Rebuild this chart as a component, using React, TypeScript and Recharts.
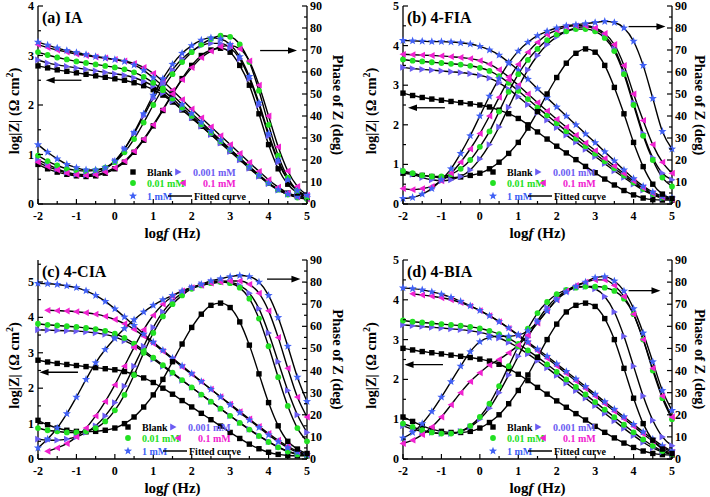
import React from "react";
import { ComposedChart, Line, XAxis, YAxis, Legend, ReferenceLine } from "recharts";

const FONT = "'Liberation Serif', 'Times New Roman', serif";

// log f grid (Hz, decades)
const LOGF = [-2, -1.75, -1.5, -1.25, -1, -0.75, -0.5, -0.25, 0, 0.25, 0.5, 0.75, 1, 1.25, 1.5, 1.75, 2, 2.25, 2.5, 2.75, 3, 3.25, 3.5, 3.75, 4, 4.25, 4.5, 4.75, 5];

const SERIES = ["Blank", "0.001 mM", "0.01 mM", "0.1 mM", "1 mM"];
const COLORS = ["#000000", "#6b5cf2", "#22e022", "#f022d0", "#4060f4"];
const SHAPES = ["square", "triRight", "circle", "triLeft", "star"];

const X_TICKS = [-2, -1.5, -1, -0.5, 0, 0.5, 1, 1.5, 2, 2.5, 3, 3.5, 4, 4.5, 5];
const PHASE_TICKS = [0, 5, 10, 15, 20, 25, 30, 35, 40, 45, 50, 55, 60, 65, 70, 75, 80, 85, 90];
const LOGZ_TICKS_4 = [0, 0.5, 1, 1.5, 2, 2.5, 3, 3.5, 4];
const LOGZ_TICKS_5 = [0, 0.5, 1, 1.5, 2, 2.5, 3, 3.5, 4, 4.5, 5];
const LOGZ_TICKS_C = [0, 0.5, 1, 1.5, 2, 2.5, 3, 3.5, 4, 4.5, 5, 5.5];

// (a) IA
const aZ0 = [2.79, 2.75, 2.71, 2.68, 2.65, 2.62, 2.59, 2.56, 2.53, 2.5, 2.45, 2.39, 2.31, 2.2, 2.06, 1.9, 1.74, 1.57, 1.41, 1.24, 1.07, 0.9, 0.73, 0.57, 0.42, 0.3, 0.22, 0.17, 0.15];
const aZ1 = [2.91, 2.85, 2.81, 2.78, 2.75, 2.72, 2.69, 2.66, 2.63, 2.6, 2.55, 2.48, 2.38, 2.24, 2.08, 1.91, 1.74, 1.57, 1.4, 1.23, 1.06, 0.89, 0.72, 0.56, 0.41, 0.28, 0.2, 0.16, 0.14];
const aZ2 = [3.07, 3.01, 2.96, 2.92, 2.88, 2.85, 2.82, 2.79, 2.76, 2.72, 2.66, 2.57, 2.45, 2.3, 2.13, 1.95, 1.78, 1.61, 1.44, 1.27, 1.1, 0.93, 0.76, 0.59, 0.43, 0.29, 0.19, 0.13, 0.1];
const aZ3 = [3.22, 3.16, 3.11, 3.07, 3.03, 3.0, 2.97, 2.95, 2.92, 2.89, 2.84, 2.76, 2.64, 2.48, 2.3, 2.11, 1.92, 1.74, 1.56, 1.38, 1.2, 1.02, 0.84, 0.66, 0.49, 0.34, 0.22, 0.14, 0.1];
const aZ4 = [3.27, 3.21, 3.15, 3.1, 3.06, 3.02, 2.98, 2.95, 2.92, 2.88, 2.81, 2.7, 2.55, 2.38, 2.2, 2.01, 1.83, 1.65, 1.47, 1.29, 1.11, 0.93, 0.75, 0.58, 0.42, 0.29, 0.2, 0.15, 0.13];
const aP0 = [18, 16, 14.5, 13.5, 12.8, 12.5, 12.8, 14, 16, 19, 23.5, 29, 35.5, 42.5, 50, 57, 63, 67.5, 70, 70.8, 69, 63, 54, 41, 27, 16, 9, 5, 3];
const aP1 = [20, 18, 16, 14.5, 13.5, 13.3, 14, 16, 19.5, 25, 32, 40, 48, 55, 61, 66, 69.5, 72, 73, 73, 71, 66, 57, 45, 31, 19, 11, 6, 4];
const aP2 = [22, 19.5, 17.5, 16, 15.3, 15, 15.3, 16.5, 19, 23.5, 29.5, 37, 45, 52.5, 59, 64.5, 69, 72.5, 75, 76.5, 76, 72.5, 64.5, 51.5, 36, 22, 12, 6, 3];
const aP3 = [19, 17, 15.5, 14, 13.3, 13, 13.3, 14.5, 16.5, 19.5, 24, 29.5, 36, 43, 50, 56.5, 62, 66.5, 69.5, 71.5, 72, 70.5, 65, 54, 40, 26, 15, 8, 4];
const aP4 = [27, 23.5, 20.5, 18, 16.5, 15.5, 15.5, 16.5, 19.5, 25, 32.5, 41, 49.5, 57, 63.5, 68.5, 72, 74.5, 75.5, 75, 72.5, 67, 58, 46, 32, 20, 11, 6, 4];

// (b) 4-FIA
const bZ0 = [2.8, 2.74, 2.69, 2.65, 2.62, 2.59, 2.56, 2.53, 2.5, 2.45, 2.37, 2.28, 2.16, 2.0, 1.82, 1.64, 1.46, 1.29, 1.12, 0.95, 0.79, 0.63, 0.48, 0.34, 0.23, 0.15, 0.11, 0.1, 0.1];
const bZ1 = [3.45, 3.42, 3.4, 3.38, 3.36, 3.34, 3.32, 3.29, 3.25, 3.18, 3.06, 2.9, 2.71, 2.51, 2.31, 2.12, 1.93, 1.74, 1.56, 1.38, 1.2, 1.02, 0.84, 0.67, 0.5, 0.35, 0.23, 0.15, 0.12];
const bZ2 = [3.65, 3.62, 3.6, 3.58, 3.56, 3.54, 3.52, 3.49, 3.44, 3.36, 3.23, 3.06, 2.86, 2.65, 2.44, 2.24, 2.04, 1.84, 1.65, 1.46, 1.27, 1.08, 0.9, 0.72, 0.54, 0.38, 0.25, 0.16, 0.12];
const bZ3 = [3.78, 3.77, 3.76, 3.75, 3.74, 3.72, 3.7, 3.67, 3.62, 3.53, 3.39, 3.21, 3.0, 2.78, 2.56, 2.35, 2.14, 1.94, 1.74, 1.54, 1.35, 1.15, 0.96, 0.77, 0.58, 0.41, 0.27, 0.17, 0.12];
const bZ4 = [4.13, 4.12, 4.11, 4.1, 4.1, 4.09, 4.07, 4.04, 3.98, 3.89, 3.76, 3.58, 3.38, 3.15, 2.91, 2.68, 2.45, 2.22, 2.0, 1.77, 1.55, 1.32, 1.09, 0.86, 0.64, 0.45, 0.3, 0.2, 0.15];
const bP0 = [14, 13.5, 13, 12.5, 12, 12, 12.3, 13, 14, 16, 19, 23, 28, 34.5, 42, 50, 57.5, 64, 68.5, 70.5, 69, 63, 53, 41, 28, 17, 9, 4.5, 2.5];
const bP1 = [15, 13.5, 12, 11, 10.5, 11, 12.5, 15.5, 20.5, 27, 35, 44, 53, 61, 67.5, 72.5, 76, 78.5, 80, 80.5, 79.5, 76.5, 70.5, 60, 46, 32, 21, 14, 11];
const bP2 = [15, 14, 13, 12.5, 12.5, 13.5, 16, 20, 26, 33, 42, 51, 59, 65.5, 70.5, 74.5, 77, 78.5, 79.5, 79.5, 78.5, 75.5, 69.5, 59, 45, 31, 20, 12, 8];
const bP3 = [7, 6.5, 7, 8, 10.5, 14, 19, 25, 32, 40, 48.5, 56.5, 63.5, 69, 73.5, 77, 79, 80.5, 81, 81, 80, 77.5, 72.5, 63, 50, 38, 27, 19, 14];
const bP4 = [2.5, 3, 4.5, 7, 11, 16, 23, 31, 40, 49, 57, 64, 69.5, 73.5, 76.5, 78.5, 80, 81, 81.5, 82, 82.5, 83, 82.5, 80, 74, 63, 48, 33, 25];

// (c) 4-CIA
const cZ0 = [2.79, 2.74, 2.7, 2.67, 2.64, 2.61, 2.58, 2.55, 2.52, 2.47, 2.39, 2.29, 2.16, 2.0, 1.83, 1.65, 1.47, 1.29, 1.11, 0.93, 0.75, 0.58, 0.42, 0.29, 0.19, 0.13, 0.1, 0.09, 0.09];
const cZ1 = [3.65, 3.64, 3.63, 3.62, 3.61, 3.59, 3.56, 3.52, 3.45, 3.34, 3.2, 3.02, 2.82, 2.62, 2.42, 2.22, 2.02, 1.82, 1.62, 1.42, 1.22, 1.03, 0.84, 0.66, 0.49, 0.34, 0.22, 0.14, 0.1];
const cZ2 = [3.82, 3.79, 3.77, 3.75, 3.73, 3.7, 3.67, 3.62, 3.54, 3.42, 3.26, 3.07, 2.86, 2.65, 2.44, 2.23, 2.02, 1.82, 1.62, 1.42, 1.22, 1.02, 0.83, 0.65, 0.48, 0.33, 0.21, 0.13, 0.1];
const cZ3 = [null, 4.2, 4.19, 4.18, 4.16, 4.13, 4.09, 4.03, 3.94, 3.82, 3.66, 3.47, 3.26, 3.04, 2.82, 2.6, 2.39, 2.18, 1.97, 1.76, 1.55, 1.34, 1.13, 0.92, 0.72, 0.53, 0.36, 0.22, 0.13];
const cZ4 = [4.96, 4.95, 4.93, 4.89, 4.84, 4.75, 4.62, 4.45, 4.24, 4.01, 3.77, 3.53, 3.3, 3.07, 2.85, 2.63, 2.41, 2.19, 1.97, 1.75, 1.53, 1.31, 1.1, 0.89, 0.68, 0.49, 0.32, 0.19, 0.12];
const cP0 = [17.5, 15.5, 14, 13, 12.5, 12.3, 12.5, 13, 14, 16, 19, 23.5, 29, 36, 44, 52, 59.5, 65.5, 69.5, 70.5, 68.5, 62, 51.5, 38.5, 25.5, 15, 8, 4.5, 2.5];
const cP1 = [9, 8.5, 8.5, 9, 10, 12, 15, 19.5, 25.5, 33, 42, 51, 59.5, 66.5, 71.5, 75, 77.5, 79, 80, 80.5, 80, 78.5, 75, 68, 57, 44, 31, 20, 12];
const cP2 = [14, 13, 12.5, 12, 12, 12.5, 14, 17, 22, 29, 38, 48, 57, 64.5, 70, 74, 77, 78.5, 79.5, 80, 79.5, 77.5, 72.5, 63.5, 51, 37, 24, 14, 8];
const cP3 = [null, 3.5, 5, 7, 10, 14, 19.5, 26, 33.5, 42, 50.5, 58.5, 65, 70, 73.5, 76, 77.5, 78.5, 79.5, 80, 80.5, 80.5, 79, 75, 67, 55, 41, 28, 19];
const cP4 = [5, 9, 14, 20.5, 28, 36, 43.5, 49.5, 54.5, 59, 63, 66.5, 69.5, 72, 74, 76, 77.5, 79, 80.5, 81.5, 82.5, 83, 82.5, 80, 74, 64, 51, 37, 26];

// (d) 4-BIA
const dZ0 = [2.78, 2.74, 2.7, 2.67, 2.64, 2.61, 2.58, 2.55, 2.51, 2.46, 2.38, 2.27, 2.13, 1.97, 1.8, 1.63, 1.46, 1.3, 1.14, 0.98, 0.82, 0.67, 0.53, 0.4, 0.29, 0.2, 0.14, 0.11, 0.1];
const dZ1 = [3.37, 3.35, 3.33, 3.31, 3.29, 3.27, 3.25, 3.22, 3.18, 3.12, 3.04, 2.93, 2.8, 2.64, 2.47, 2.29, 2.1, 1.91, 1.72, 1.53, 1.34, 1.15, 0.96, 0.77, 0.59, 0.42, 0.28, 0.18, 0.12];
const dZ2 = [3.48, 3.45, 3.43, 3.41, 3.39, 3.37, 3.35, 3.32, 3.28, 3.22, 3.14, 3.03, 2.89, 2.73, 2.56, 2.38, 2.19, 2.0, 1.81, 1.62, 1.43, 1.24, 1.05, 0.86, 0.67, 0.49, 0.33, 0.2, 0.12];
const dZ3 = [null, 4.15, 4.12, 4.09, 4.05, 4.0, 3.93, 3.84, 3.73, 3.6, 3.45, 3.28, 3.1, 2.91, 2.72, 2.53, 2.34, 2.15, 1.96, 1.77, 1.58, 1.39, 1.2, 1.01, 0.82, 0.63, 0.45, 0.29, 0.17];
const dZ4 = [4.3, 4.28, 4.25, 4.2, 4.14, 4.06, 3.96, 3.85, 3.73, 3.6, 3.45, 3.29, 3.12, 2.94, 2.76, 2.58, 2.39, 2.2, 2.01, 1.82, 1.63, 1.44, 1.25, 1.06, 0.87, 0.68, 0.5, 0.33, 0.2];
const dP0 = [19, 17, 15, 13.5, 12.5, 12, 12, 12.5, 14, 16.5, 20, 25, 31, 38, 46, 54, 61, 66.5, 69.5, 70.5, 69, 63.5, 54, 41, 27.5, 16, 8.5, 4.5, 2.5];
const dP1 = [15, 13.5, 12.5, 12, 11.5, 11.5, 12.5, 14.5, 18, 23, 30, 38, 46.5, 55, 62.5, 68.5, 73, 76, 77.5, 78, 77, 73.5, 66.5, 55.5, 42, 28.5, 17.5, 10, 6];
const dP2 = [16, 14.5, 13, 12, 11.5, 11.5, 12.5, 15, 19, 25, 33, 42, 51, 59, 66, 71, 74.5, 76.5, 77.5, 78, 78, 77.5, 76, 72.5, 65.5, 54, 40, 27.5, 18];
const dP3 = [7, 8.5, 11, 14.5, 19, 24.5, 30, 35, 39, 42.5, 45, 48, 51.5, 56, 61.5, 67, 72, 76, 78.5, 80, 81, 81, 78.5, 73.5, 65.5, 54, 41, 28.5, 19];
const dP4 = [9.5, 12, 16, 21.5, 28, 35, 42, 48.5, 53, 55, 55.5, 55.5, 56, 58, 62, 67, 72, 75.5, 78, 80, 82, 82.5, 80.5, 76, 68, 57, 44, 31, 22];

// arrows: [from logf, to logf, at log|Z|]
const ARROWS_A = [[-0.87, -1.8, 2.5], [3.78, 4.74, 3.1]];
const ARROWS_B = [[-0.91, -1.87, 2.43], [3.87, 4.83, 4.48]];
const ARROWS_C = [[-0.96, -1.96, 2.45], [3.96, 4.83, 5.08]];
const ARROWS_D = [[-0.96, -1.96, 2.37], [3.87, 4.7, 4.23]];

const PANEL_TITLES = ["(a) IA", "(b) 4-FIA", "(c) 4-CIA", "(d) 4-BIA"];

const PANELS = [
  { left: 0, top: 0, height: 250, leftW: 38, rightW: 48, padTop: 6, xH: 46, yMax: 4, yTicks: LOGZ_TICKS_4, z: [aZ0, aZ1, aZ2, aZ3, aZ4], p: [aP0, aP1, aP2, aP3, aP4], arrows: ARROWS_A, legendX: 95, leftLabelX: 14, rightLabelX: 338, htmlRight: false },
  { left: 355, top: 0, height: 250, leftW: 48, rightW: 38, padTop: 6, xH: 46, yMax: 5, yTicks: LOGZ_TICKS_5, z: [bZ0, bZ1, bZ2, bZ3, bZ4], p: [bP0, bP1, bP2, bP3, bP4], arrows: ARROWS_B, legendX: 90, leftLabelX: 16, rightLabelX: 345, htmlRight: true },
  { left: 0, top: 250, height: 247, leftW: 38, rightW: 48, padTop: 10, xH: 38, yMax: 5.62, yTicks: LOGZ_TICKS_C, z: [cZ0, cZ1, cZ2, cZ3, cZ4], p: [cP0, cP1, cP2, cP3, cP4], arrows: ARROWS_C, legendX: 90, leftLabelX: 14, rightLabelX: 338, htmlRight: false },
  { left: 355, top: 250, height: 247, leftW: 48, rightW: 38, padTop: 10, xH: 38, yMax: 5, yTicks: LOGZ_TICKS_5, z: [dZ0, dZ1, dZ2, dZ3, dZ4], p: [dP0, dP1, dP2, dP3, dP4], arrows: ARROWS_D, legendX: 90, leftLabelX: 16, rightLabelX: 345, htmlRight: true },
];

const PANEL_W = 355;
const isMajor = (v: number, step: number) => Math.abs(v / step - Math.round(v / step)) < 1e-6;
const tickText = { fontFamily: FONT, fontWeight: 700, fontSize: 12 };

function Marker({ shape, cx, cy, color }: any) {
  if (shape === "square") return <rect x={cx - 2.7} y={cy - 2.7} width={5.4} height={5.4} fill={color} />;
  if (shape === "circle") return <circle cx={cx} cy={cy} r={2.9} fill={color} />;
  if (shape === "triRight")
    return <polygon points={`${cx - 2.8},${cy - 3.4} ${cx + 3.5},${cy} ${cx - 2.8},${cy + 3.4}`} fill={color} />;
  if (shape === "triLeft")
    return <polygon points={`${cx + 2.8},${cy - 3.4} ${cx - 3.5},${cy} ${cx + 2.8},${cy + 3.4}`} fill={color} />;
  const pts: string[] = [];
  for (let k = 0; k < 10; k++) {
    const r = k % 2 ? 1.8 : 4.3;
    const a = -Math.PI / 2 + (k * Math.PI) / 5;
    pts.push(`${cx + r * Math.cos(a)},${cy + r * Math.sin(a)}`);
  }
  return <polygon points={pts.join(" ")} fill={color} />;
}

const dotFor = (s: number, tag: string) => (p: any) => {
  const key = `${tag}${s}-${p.index}`;
  if (p.cy == null || isNaN(p.cy) || p.value == null) return <g key={key} />;
  return <Marker key={key} shape={SHAPES[s]} cx={p.cx} cy={p.cy} color={COLORS[s]} />;
};

function BottomTick({ x, y, payload }: any) {
  const major = isMajor(payload.value, 1);
  return (
    <g>
      <line x1={x} x2={x} y1={y} y2={y - (major ? 5 : 3)} stroke="#000" strokeWidth={1.2} />
      {major && (
        <text x={x} y={y + 16} textAnchor="middle" style={tickText}>
          {payload.value}
        </text>
      )}
    </g>
  );
}

function TopTick({ x, y, payload }: any) {
  const major = isMajor(payload.value, 1);
  return <line x1={x} x2={x} y1={y} y2={y + (major ? 5 : 3)} stroke="#000" strokeWidth={1.2} />;
}

function LeftTick({ x, y, payload }: any) {
  const major = isMajor(payload.value, 1);
  return (
    <g>
      <line x1={x} x2={x + (major ? 5 : 3)} y1={y} y2={y} stroke="#000" strokeWidth={1.2} />
      {major && (
        <text x={x - 4} y={y + 4} textAnchor="end" style={tickText}>
          {payload.value}
        </text>
      )}
    </g>
  );
}

function RightTick({ x, y, payload }: any) {
  const major = isMajor(payload.value, 10);
  return (
    <g>
      <line x1={x} x2={x - (major ? 5 : 3)} y1={y} y2={y} stroke="#000" strokeWidth={1.2} />
      {major && (
        <text x={x + 3} y={y + 4} textAnchor="start" style={tickText}>
          {payload.value}
        </text>
      )}
    </g>
  );
}

const arrowShape = (props: any) => {
  const { x1, y1, x2, y2 } = props;
  const dir = Math.sign(x2 - x1) || 1;
  return (
    <g>
      <line x1={x1} y1={y1} x2={x2 - dir * 6} y2={y2} stroke="#000" strokeWidth={1.3} />
      <polygon points={`${x2},${y2} ${x2 - dir * 9},${y2 - 3.3} ${x2 - dir * 9},${y2 + 3.3}`} fill="#000" />
    </g>
  );
};

function LegendBox() {
  const t = { fontFamily: FONT, fontWeight: 700, fontSize: 10 };
  return (
    <svg width={175} height={40} style={{ display: "block" }}>
      <Marker shape={SHAPES[0]} cx={6} cy={6} color={COLORS[0]} />
      <text x={20} y={9.5} fill={COLORS[0]} style={t}>{SERIES[0]}</text>
      <Marker shape={SHAPES[1]} cx={51} cy={6} color={COLORS[1]} />
      <text x={66} y={9.5} fill={COLORS[1]} style={t}>{SERIES[1]}</text>
      <Marker shape={SHAPES[2]} cx={6} cy={17} color={COLORS[2]} />
      <text x={20} y={20.5} fill={COLORS[2]} style={t}>{SERIES[2]}</text>
      <Marker shape={SHAPES[3]} cx={56} cy={17} color={COLORS[3]} />
      <text x={76} y={20.5} fill={COLORS[3]} style={t}>{SERIES[3]}</text>
      <Marker shape={SHAPES[4]} cx={6} cy={30} color={COLORS[4]} />
      <text x={20} y={33.5} fill={COLORS[4]} style={t}>{SERIES[4]}</text>
      <line x1={41} x2={65} y1={30} y2={30} stroke="#000" strokeWidth={1.5} />
      <text x={67} y={33.5} fill="#000" style={t}>Fitted curve</text>
    </svg>
  );
}

function Panel({ idx, cfg }: any) {
  const { left, top, height, leftW, rightW, padTop, xH, yMax, yTicks, z, p, arrows, legendX } = cfg;
  const rows = LOGF.map((f, i) => {
    const r: any = { f };
    for (let s = 0; s < 5; s++) {
      r[`z${s}`] = z[s][i];
      r[`p${s}`] = p[s][i];
    }
    return r;
  });
  const plotBottom = height - xH;
  const axisLine = { stroke: "#000", strokeWidth: 1.3 };

  return (
    <div style={{ position: "absolute", left, top, width: PANEL_W, height }}>
      <ComposedChart width={PANEL_W} height={height} data={rows} margin={{ top: padTop, right: 0, bottom: 0, left: 0 }}>
        <XAxis
          dataKey="f" type="number" domain={[-2, 5]} ticks={X_TICKS} interval={0}
          height={xH} tickSize={0} tickMargin={0} tickLine={false} axisLine={axisLine} tick={BottomTick}
        />
        <XAxis
          xAxisId="t" orientation="top" dataKey="f" type="number" domain={[-2, 5]} ticks={X_TICKS} interval={0}
          height={0} tickSize={0} tickMargin={0} tickLine={false} axisLine={axisLine} tick={TopTick}
        />
        <YAxis
          yAxisId="l" type="number" domain={[0, yMax]} ticks={yTicks} interval={0}
          width={leftW} tickSize={0} tickMargin={0} tickLine={false} axisLine={axisLine} tick={LeftTick}
        />
        <YAxis
          yAxisId="r" orientation="right" type="number" domain={[0, 90]} ticks={PHASE_TICKS} interval={0}
          width={rightW} tickSize={0} tickMargin={0} tickLine={false} axisLine={axisLine} tick={RightTick}
        />
        {SERIES.map((n, s) => (
          <Line
            key={`z${s}`} yAxisId="l" dataKey={`z${s}`} name={n} type="monotone" stroke="#000" strokeWidth={1.4}
            dot={dotFor(s, `z${idx}`)} activeDot={false} isAnimationActive={false}
          />
        ))}
        {SERIES.map((n, s) => (
          <Line
            key={`p${s}`} yAxisId="r" dataKey={`p${s}`} name={n} type="monotone" stroke="#000" strokeWidth={1.4}
            dot={dotFor(s, `p${idx}`)} activeDot={false} isAnimationActive={false}
          />
        ))}
        {arrows.map((a: number[], k: number) => (
          <ReferenceLine
            key={`ar${k}`} yAxisId="l" segment={[{ x: a[0], y: a[2] }, { x: a[1], y: a[2] }]} shape={arrowShape}
          />
        ))}
        <Legend
          layout="vertical" align="center" verticalAlign="middle"
          wrapperStyle={{ left: leftW + legendX - 6, top: plotBottom - 38, width: 175, height: 40, margin: 0, padding: 0 }}
          content={() => <LegendBox />}
        />
      </ComposedChart>
    </div>
  );
}

function AxisTitles() {
  const lbl = { fontFamily: FONT, fontWeight: 700, fontSize: 14.5 };
  return (
    <svg width={710} height={497} style={{ position: "absolute", left: 0, top: 0, pointerEvents: "none" }}>
      {PANELS.map((c, i) => {
        const pl = c.left + c.leftW;
        const pr = c.left + PANEL_W - c.rightW;
        const pt = c.top + c.padTop;
        const pb = c.top + c.height - c.xH;
        const my = (pt + pb) / 2;
        return (
          <g key={`t${i}`}>
            <text x={pl + 4} y={pt + 17} style={{ ...lbl, fontSize: 16 }}>
              {PANEL_TITLES[i]}
            </text>
            <text x={(pl + pr) / 2} y={pb + 34} textAnchor="middle" style={{ ...lbl, fontSize: 15 }}>
              log<tspan fontStyle="italic">f</tspan> (Hz)
            </text>
            <text transform={`translate(${c.left + c.leftLabelX},${my + 6}) rotate(-90)`} textAnchor="middle" dy="0.35em" style={lbl}>
              log|Z| (Ω cm<tspan dy={-6} fontSize={10}>2</tspan><tspan dy={6}>)</tspan>
            </text>
            {!c.htmlRight && (
              <text transform={`translate(${c.left + c.rightLabelX},${my}) rotate(90)`} textAnchor="middle" dy="0.35em" style={lbl}>
                Phase of Z (deg)
              </text>
            )}
          </g>
        );
      })}
    </svg>
  );
}

// right-hand phase titles drawn as vertical HTML text
function RightTitles() {
  return (
    <>
      {PANELS.filter((c) => c.htmlRight).map((c, i) => {
        const pt = c.top + c.padTop;
        const pb = c.top + c.height - c.xH;
        return (
          <div
            key={`rt${i}`}
            style={{
              position: "absolute",
              left: c.left + c.rightLabelX - 8,
              top: pt,
              height: pb - pt,
              width: 16,
              writingMode: "vertical-rl",
              textAlign: "center",
              fontFamily: FONT,
              fontWeight: 700,
              fontSize: 14.5,
              lineHeight: "16px",
              whiteSpace: "nowrap",
              color: "#000",
            }}
          >
            Phase of Z (deg)
          </div>
        );
      })}
    </>
  );
}

export default function App() {
  return (
    <div style={{ position: "fixed", left: 0, top: 0, width: 710, height: 497, background: "#fff" }}>
      {PANELS.map((c, i) => (
        <Panel key={`panel${i}`} idx={i} cfg={c} />
      ))}
      <AxisTitles />
      <RightTitles />
    </div>
  );
}
